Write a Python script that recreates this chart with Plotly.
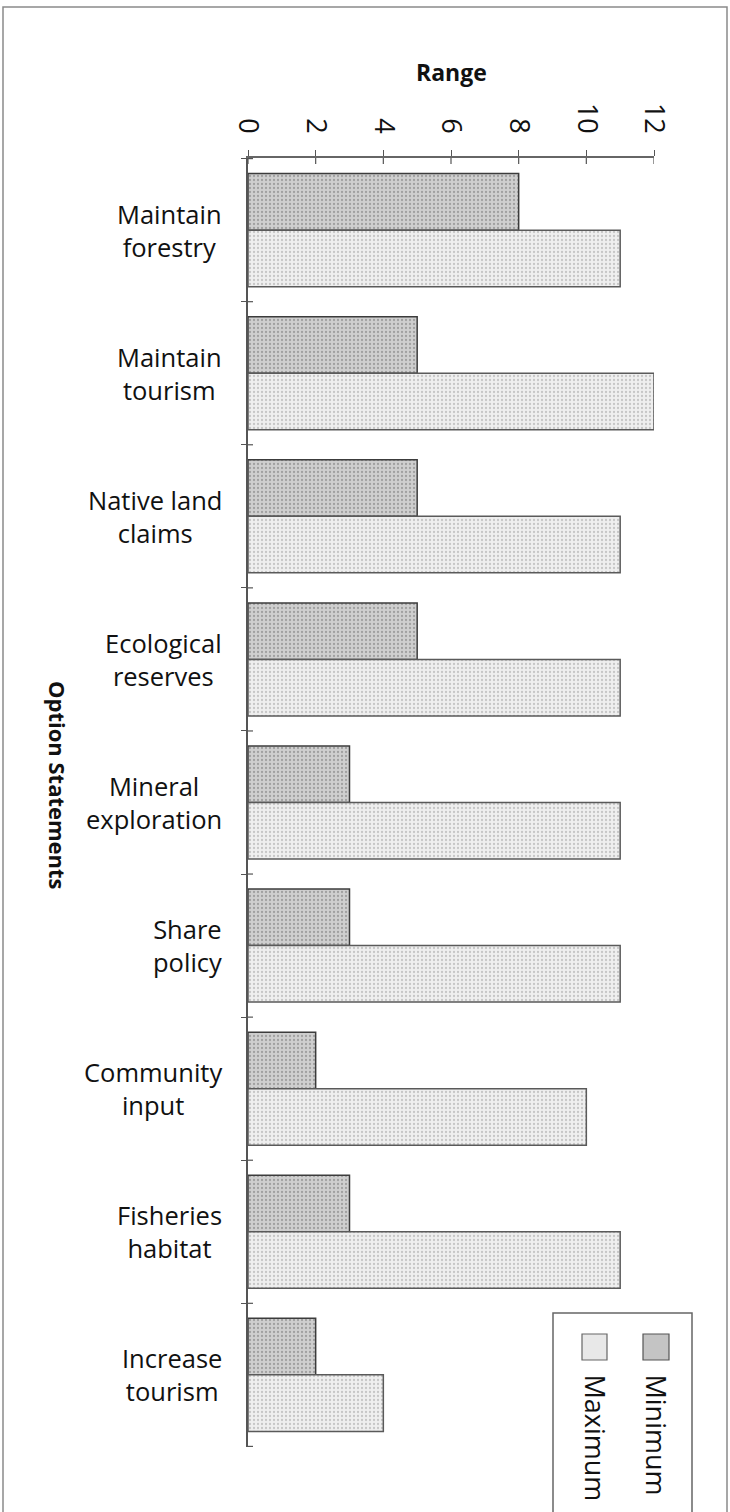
import plotly.graph_objects as go

categories = ["Maintain<br>forestry", "Maintain<br>tourism", "Native land<br>claims",
              "Ecological<br>reserves", "Mineral<br>exploration", "Share<br>policy",
              "Community<br>input", "Fisheries<br>habitat", "Increase<br>tourism"]
minimum = [8, 5, 5, 5, 3, 3, 2, 3, 2]
maximum = [11, 12, 11, 11, 11, 11, 10, 11, 4]
tick_vals = [0, 2, 4, 6, 8, 10, 12]
tick_text = ["0", "2", "4", "6", "8", "10", "12"]

W, H = 730, 1512
L, R, T, B = 248, 76, 158, 65
PW, PH = W - L - R, H - T - B

def px_x(x):
    return (x - L) / PW

def px_y(y):
    return (H - B - y) / PH

FONT = "Open Sans"
TXT = "#111111"

fig = go.Figure()
fig.add_trace(go.Bar(
    y=categories, x=minimum, orientation="h", name="Minimum",
    marker=dict(color="#cdcdcd",
                line=dict(color="#3c3c3c", width=1.5),
                pattern=dict(shape=".", bgcolor="#cfcfcf", fgcolor="#a0a0a0",
                             size=4, solidity=0.25, fillmode="replace")),
    showlegend=False))
fig.add_trace(go.Bar(
    y=categories, x=maximum, orientation="h", name="Maximum",
    marker=dict(color="#ececec",
                line=dict(color="#5a5a5a", width=1.5),
                pattern=dict(shape=".", bgcolor="#efefef", fgcolor="#c6c6c6",
                             size=4, solidity=0.25, fillmode="replace")),
    showlegend=False))

fig.update_layout(
    width=W, height=H,
    margin=dict(l=L, r=R, t=T, b=B, pad=0),
    paper_bgcolor="white", plot_bgcolor="white",
    barmode="group", bargap=0.21, bargroupgap=0,
    font=dict(family=FONT, color=TXT),
    xaxis=dict(side="top", range=[0, 12], tickvals=tick_vals, ticktext=tick_text,
               tickangle=90, ticks="outside", ticklen=6, tickwidth=1.2,
               tickcolor="#555", showline=True, linecolor="#666", linewidth=1.5,
               showgrid=False, zeroline=False,
               tickfont=dict(size=27, family=FONT, color=TXT),
               ticklabelstandoff=7),
    yaxis=dict(autorange="reversed", showticklabels=False, ticks="outside",
               tickson="boundaries", ticklen=5, tickwidth=1.2, tickcolor="#555",
               showline=True, linecolor="#555", linewidth=1.5, showgrid=False,
               zeroline=False),
)

shapes = []
# inward halves of the crossing ticks
for v in tick_vals:
    shapes.append(dict(type="line", xref="x", yref="paper", x0=v, x1=v,
                       y0=1, y1=1 - 6 / PH, line=dict(color="#555", width=1.2)))
for i in range(len(categories) + 1):
    shapes.append(dict(type="line", xref="x", yref="y", x0=0, x1=5 * 12 / PW,
                       y0=i - 0.5, y1=i - 0.5, line=dict(color="#555", width=1.2)))
# outer frame
shapes.append(dict(type="rect", xref="paper", yref="paper",
                   x0=px_x(3), x1=px_x(727), y0=px_y(1516), y1=px_y(7),
                   line=dict(color="#8a8a8a", width=1.5), fillcolor="rgba(0,0,0,0)",
                   layer="below"))
# legend box
shapes.append(dict(type="rect", xref="paper", yref="paper",
                   x0=px_x(553), x1=px_x(692), y0=px_y(1516), y1=px_y(1313),
                   line=dict(color="#666", width=1.5), fillcolor="white"))
# legend swatches
shapes.append(dict(type="rect", xref="paper", yref="paper",
                   x0=px_x(643), x1=px_x(669), y0=px_y(1360), y1=px_y(1334),
                   line=dict(color="#555", width=1.2), fillcolor="#c4c4c4"))
shapes.append(dict(type="rect", xref="paper", yref="paper",
                   x0=px_x(582), x1=px_x(607), y0=px_y(1360), y1=px_y(1334),
                   line=dict(color="#666", width=1.2), fillcolor="#e8e8e8"))
fig.update_layout(shapes=shapes)

ann = []
for c in categories:
    ann.append(dict(xref="paper", yref="y", x=0, y=c, xanchor="right",
                    yanchor="middle", xshift=-24, align="center", showarrow=False,
                    text=c, font=dict(size=25.5, family=FONT, color=TXT)))
ann.append(dict(xref="paper", yref="paper", x=0.5, y=px_y(72), xanchor="center",
                yanchor="middle", showarrow=False, text="<b>Range</b>",
                font=dict(size=23, family=FONT, color=TXT)))
ann.append(dict(xref="paper", yref="paper", x=px_x(58), y=px_y(785), xanchor="center",
                yanchor="middle", showarrow=False, text="<b>Option Statements</b>",
                textangle=90, font=dict(size=22, family=FONT, color=TXT)))
ann.append(dict(xref="paper", yref="paper", x=px_x(656), y=px_y(1372), xanchor="center",
                yanchor="top", showarrow=False, text="Minimum", textangle=90,
                font=dict(size=27, family=FONT, color=TXT)))
ann.append(dict(xref="paper", yref="paper", x=px_x(595), y=px_y(1372), xanchor="center",
                yanchor="top", showarrow=False, text="Maximum", textangle=90,
                font=dict(size=27, family=FONT, color=TXT)))
fig.update_layout(annotations=ann)

fig.write_html("out.html")
